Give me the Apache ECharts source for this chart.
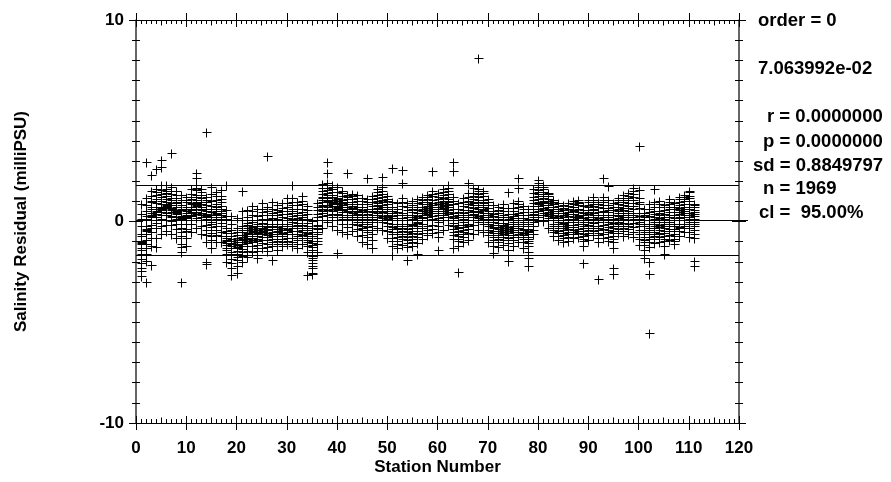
<!DOCTYPE html>
<html>
<head>
<meta charset="utf-8">
<script src="https://cdn.jsdelivr.net/npm/echarts@6/dist/echarts.min.js"></script>
<style>
html,body{margin:0;padding:0;background:#fff;}
#chart{width:891px;height:482px;}
</style>
</head>
<body>
<div id="chart"></div>
<script>
// ---- data ----
const stationNumbers = [];
for (let s = 1; s <= 111; s++) stationNumbers.push(s);

// residuals per station (milliPSU), index i -> station i+1
const residualsByStation = [
[-1.05,-2.72,-0.62,-1.41,0.88,-2.3,-1.12,-0.2,-1.85,-0.95,0.35,-2.45,-1.6,-0.71,-1.3,0.12,-2.05,-1.0],
[-0.4,0.51,-1.98,-0.22,2.97,-3.0,-0.61,1.18,-0.35,-1.3,0.05,0.8,-0.9,-1.62,0.28,-0.48,0.12,-1.1],
[0.31,1.52,-1.2,0.2,0.62,-0.52,2.3,-2.15,0.95,0.27,-0.15,1.25,0.44,-0.8,0.08,0.71,1.02,-0.3],
[0.45,1.61,-0.8,0.52,2.62,0.9,-1.25,0.05,1.3,0.38,-0.31,0.71,1.12,0.6,-0.05,0.22,1.45],
[0.6,1.82,0.68,-0.6,3.05,2.7,1.2,0.48,0.85,-0.21,1.55,0.72,0.1,1.02,0.3,1.38,0.55],
[0.8,1.79,0.72,-0.48,1.25,0.05,0.96,1.6,0.41,0.88,1.1,0.31,1.42,0.66,-0.15,0.75,1.5],
[0.55,3.38,1.7,-0.6,0.62,1.08,0.2,0.91,1.35,0.48,-0.18,0.8,1.52,0.28,0.67,1.18,0.02],
[0.45,1.51,-0.8,0.38,0.9,0.1,1.18,0.52,-0.35,0.7,1.3,0.22,0.55,0.95,-0.1,0.41],
[0.12,-3.0,1.31,-1.1,0.2,-1.25,0.55,-0.5,-1.5,0.82,0.05,-0.3,1.05,0.28,-0.72,0.15,0.6,-0.12],
[0.3,1.22,-1.2,0.15,0.62,-0.45,0.95,0.25,-0.8,0.4,1.08,-0.1,0.7,0.22,-0.35,0.5],
[0.55,1.62,-0.52,0.6,1.1,0.25,0.88,-0.1,1.35,0.48,0.7,0.05,1.2,0.4,0.92,0.3],
[0.9,1.82,-0.3,2.4,2.15,0.75,1.3,0.45,1.05,0.82,1.55,0.15,0.98,0.6,1.2,0.38,1.65,0.85],
[0.62,1.6,-0.62,0.55,1.15,0.2,0.85,-0.2,1.3,0.72,0.4,0.95,0.05,1.45,0.6,0.3],
[0.25,4.46,-2.0,-2.1,1.22,-1.0,0.3,0.6,-0.4,0.82,0.1,-0.65,0.95,0.2,-0.15,0.5,0.35,1.05],
[0.0,1.73,-1.3,0.45,-0.55,1.38,-0.9,0.2,0.75,-0.25,0.05,1.0,-0.7,0.3,-0.1,0.6,-0.4],
[0.35,1.48,-1.0,0.2,0.72,-0.4,1.05,0.4,-0.2,0.85,0.1,1.25,0.5,-0.65,0.3,0.62],
[0.1,1.56,-1.02,0.2,0.62,-0.5,0.95,-0.2,0.4,1.28,0.05,-0.7,0.75,0.3,-0.05,0.5,1.1],
[-0.8,1.8,-2.0,-0.55,-1.3,0.58,-0.9,-1.6,-0.3,-1.05,0.1,-0.7,-1.4,-0.45,-1.15,-0.95,0.25],
[-1.05,-2.65,-2.3,-0.7,-1.5,0.27,-1.2,-1.85,-0.4,-0.95,-1.6,-1.3,-0.1,-2.05,-0.85,-1.1,-0.55],
[-1.15,-2.55,-2.2,-0.8,-1.6,0.19,-1.3,-1.9,-0.5,-1.0,-1.45,-0.3,-1.75,-1.1,-0.65,-1.25,-0.9],
[-0.85,1.5,-2.0,-0.5,-1.35,0.52,-1.0,-1.7,-0.2,-0.9,-1.2,0.05,-0.65,-1.5,-0.75,-0.4,-1.1],
[-0.6,-1.78,-0.3,-1.2,0.58,-0.8,-0.05,-1.45,-0.55,-0.95,0.2,-0.7,-1.05,-0.4,-0.15,-0.85],
[-0.45,-1.5,0.78,-0.2,-1.0,-0.6,0.3,-0.8,-0.35,-1.2,0.0,-0.5,0.5,-0.7,-0.25,-0.9],
[-0.5,-1.8,-1.48,0.6,-0.3,-0.85,-0.1,-1.15,-0.6,0.25,-0.4,-0.95,-0.2,-0.7,0.05,-0.55,-1.3],
[-0.35,-1.3,0.9,-0.6,0.1,-0.9,-0.2,0.45,-0.5,-1.05,-0.05,0.3,-0.75,-0.3,0.6,-0.45],
[-0.4,3.25,-1.48,0.7,-0.75,-0.1,-1.1,0.3,-0.55,-0.2,-0.9,0.1,-0.35,0.5,-0.65,-0.25,-1.25],
[-0.25,-1.9,0.98,-1.2,0.3,-0.6,0.05,-0.85,0.6,-0.35,-0.1,-1.0,0.4,-0.5,0.15,-0.7,-0.2],
[-0.45,-1.4,0.8,-0.7,0.1,-1.1,-0.25,0.45,-0.85,-0.5,-0.1,0.3,-0.95,-0.35,0.55,-0.6],
[-0.3,-1.2,0.9,-0.55,0.2,-0.85,-0.1,0.5,-0.7,-0.4,0.05,-1.0,0.35,-0.2,0.65,-0.6],
[-0.2,-1.1,1.19,-0.5,0.35,-0.8,0.05,0.7,-0.35,-0.95,0.15,-0.6,0.9,-0.1,0.5,-0.4],
[0.0,1.8,-1.2,0.5,-0.45,1.18,-0.8,0.25,-0.2,0.8,-0.6,0.1,0.95,-0.3,0.4,-1.0,0.6],
[-0.2,-1.3,0.99,-0.6,0.3,-0.9,-0.05,0.6,-0.45,-1.1,0.15,-0.3,0.8,-0.7,0.4,-0.15],
[0.05,-1.1,1.29,-0.5,0.6,-0.8,0.2,1.0,-0.3,-0.15,0.45,-0.65,0.85,0.1,-0.4,0.3],
[-0.55,-2.65,-1.52,0.79,-0.9,-0.2,-1.2,0.35,-0.7,-0.4,-1.0,0.1,-0.6,-0.3,0.55,-0.8,-0.05],
[-1.25,-2.55,-2.61,0.02,-1.9,-0.7,-2.3,-1.5,-0.3,-1.05,-2.05,-1.7,-0.95,-1.4,-2.2,-0.5,-1.15,-1.8],
[-0.35,-1.49,0.91,-0.8,0.2,-1.1,-0.15,0.55,-0.6,-0.3,0.35,-0.95,-0.5,0.05,0.7,-0.2],
[0.75,1.88,-0.32,1.2,0.4,1.5,0.05,0.95,1.35,0.6,0.25,1.05,1.65,0.8,0.5,1.15],
[1.05,2.97,2.4,-0.02,1.91,1.4,0.55,1.2,0.8,1.65,0.3,1.0,1.8,0.7,1.3,0.95,1.55,1.15],
[0.95,1.81,-0.21,1.3,0.5,1.6,0.2,1.05,0.75,1.45,0.35,0.9,1.2,0.6,1.7,0.85],
[0.62,1.71,-1.55,-0.41,1.12,0.35,1.45,0.05,0.88,0.66,1.18,0.31,0.79,1.02,0.57,0.93,0.71],
[0.55,1.52,-0.52,0.9,0.2,1.25,-0.1,0.7,0.45,1.05,0.3,0.8,1.4,0.6,0.1,0.95],
[0.45,2.4,-0.61,1.32,0.1,0.85,0.3,1.1,-0.25,0.6,0.95,0.2,0.7,1.2,0.5,0.05],
[0.5,1.37,-0.49,0.85,0.2,1.1,-0.1,0.65,0.4,0.95,0.3,1.25,0.6,0.1,0.75],
[0.35,1.31,-0.71,0.7,0.0,1.0,-0.35,0.5,0.2,0.85,0.45,-0.15,1.15,0.3,0.6,0.1],
[0.1,1.19,-1.01,0.55,-0.4,0.85,-0.2,0.3,-0.65,0.7,0.0,1.0,0.2,-0.1,0.45,-0.3],
[0.0,2.15,-1.12,0.6,-0.5,1.11,-0.25,0.35,-0.75,0.85,0.1,-0.1,0.5,-0.4,0.2,0.95],
[0.2,-1.3,1.29,-0.91,0.6,-0.4,0.95,0.0,0.45,-0.2,1.1,0.3,-0.6,0.75,0.1,0.5],
[0.65,1.61,-0.3,1.0,0.3,1.3,0.05,0.8,0.5,1.15,0.2,0.9,1.45,0.6,0.4,0.75],
[0.6,2.2,1.69,-0.42,1.05,0.25,1.35,0.0,0.8,0.45,1.2,0.15,0.95,1.5,0.7,0.5],
[0.3,1.29,-0.81,0.7,-0.2,1.0,0.1,0.5,-0.45,0.85,0.2,0.6,-0.05,1.1,0.4,0.25],
[-0.1,2.65,-1.66,-1.21,0.99,-0.5,0.4,-0.8,0.15,-0.25,0.7,-0.6,0.05,-0.35,0.5,-0.95,0.25],
[-0.2,-1.31,0.9,-0.6,0.3,-0.95,0.05,-0.35,0.6,-0.75,-0.1,0.45,-0.5,0.15,-1.1,-0.3],
[-0.1,2.55,1.9,-1.19,1.17,-0.6,0.4,-0.85,0.15,-0.3,0.75,-0.45,0.05,0.95,-0.7,0.3,-0.2],
[-0.2,-1.9,-1.29,0.91,-0.6,0.3,-0.9,0.05,-0.35,0.55,-0.75,-0.1,0.2,-0.5,-1.05,0.7],
[-0.1,-1.2,1.01,-0.55,0.3,-0.85,0.1,-0.3,0.6,-0.7,-0.15,0.45,-0.45,0.2,-1.0,0.8],
[0.0,-1.6,-1.09,1.1,-0.45,0.4,-0.75,0.15,-0.2,0.7,-0.6,0.25,-0.05,0.9,-0.3,0.55],
[0.3,1.21,-0.89,0.7,-0.3,0.95,0.05,0.5,-0.55,0.85,0.2,-0.1,0.6,0.4,1.05,0.15],
[0.45,1.32,-0.69,0.85,-0.2,1.1,0.2,0.65,-0.4,0.95,0.3,0.05,0.75,0.55,1.2,0.35],
[0.5,2.5,1.51,-0.58,0.9,-0.15,1.25,0.25,0.7,-0.35,1.05,0.4,0.1,0.8,0.6,1.35],
[0.4,-1.4,1.39,-0.79,0.85,-0.2,1.1,0.15,0.6,-0.5,0.95,0.3,0.0,0.7,0.5,1.2],
[0.65,1.63,-0.41,1.0,0.3,1.3,0.05,0.8,0.5,1.15,0.2,0.9,1.45,0.6,0.4,0.75],
[0.85,1.82,-0.19,1.2,0.45,1.5,0.2,1.0,0.7,1.35,0.35,1.1,1.65,0.8,0.55,0.95],
[0.05,2.97,2.5,-1.3,1.21,-0.5,0.6,-0.85,0.25,-0.2,0.85,-0.65,0.4,-0.05,1.0,-0.35,0.15],
[-0.3,-2.5,-1.22,0.92,-0.7,0.3,-0.95,0.05,-0.45,0.6,-0.6,-0.15,0.2,-0.85,0.45,-0.25],
[0.0,-1.01,1.19,-0.5,0.4,-0.75,0.2,-0.25,0.75,-0.4,0.1,0.95,-0.15,0.55,-0.6,0.3],
[0.2,1.9,-0.9,1.41,-0.35,0.7,-0.1,0.45,1.0,-0.55,0.3,0.85,0.05,0.55,1.2,-0.2],
[0.5,1.68,-0.6,1.1,0.2,1.4,-0.15,0.8,0.35,0.95,0.05,0.65,1.25,0.45,0.9,0.3],
[0.6,8.11,1.62,-0.41,1.05,0.25,1.35,0.0,0.8,0.45,1.2,0.15,0.95,1.5,0.7,0.5],
[0.55,1.51,-0.51,0.9,0.2,1.25,-0.1,0.7,0.4,1.05,0.3,0.8,1.4,0.6,0.1,0.95],
[0.0,1.11,-1.0,0.5,-0.4,0.8,-0.2,0.3,-0.65,0.65,0.1,-0.1,0.95,0.2,-0.5,0.4],
[-0.3,-1.57,-1.21,0.81,-0.65,0.25,-0.9,0.0,-0.45,0.5,-0.15,-0.75,0.35,-0.55,0.1,-0.25],
[-0.35,-1.29,0.71,-0.75,0.1,-1.0,-0.15,0.4,-0.55,-0.85,0.2,-0.45,-0.05,0.55,-0.65,-0.25],
[-0.2,-1.19,0.89,-0.6,0.2,-0.9,-0.05,0.5,-0.4,-0.75,0.3,-0.3,0.05,0.65,-0.5,-0.15],
[-0.45,-1.65,-1.98,1.45,-1.39,0.69,-0.8,0.1,-1.05,-0.25,0.35,-0.65,-0.1,-0.9,0.2,-0.55,-0.35],
[-0.2,-1.2,0.9,-0.65,0.25,-0.9,0.0,0.5,-0.4,-0.75,0.15,-0.3,0.65,-0.5,-0.1,0.35],
[-0.1,2.15,1.65,-1.02,1.01,-0.5,0.4,-0.75,0.15,-0.3,0.7,-0.6,0.05,0.85,-0.2,0.3],
[-0.35,-1.3,0.79,-0.75,0.15,-1.0,-0.2,0.45,-0.55,-0.85,0.3,-0.4,0.0,0.6,-0.65,-0.1],
[-0.5,-1.8,-2.2,-1.51,0.61,-0.95,-0.1,-1.2,-0.35,0.3,-0.75,-0.2,-1.05,0.1,-0.6,-0.45,-0.85],
[0.3,1.59,-0.61,0.9,-0.2,1.2,0.1,0.6,-0.4,1.4,0.45,0.0,0.75,0.2,1.05,0.35],
[0.95,2.06,1.92,0.01,1.35,0.5,1.7,0.3,1.1,0.75,1.55,0.2,0.9,1.25,0.6,1.45,0.85],
[1.0,1.81,0.02,1.35,0.55,1.6,0.3,1.15,0.8,1.45,0.4,0.95,1.7,0.65,1.25,0.9],
[0.6,1.42,-0.31,1.0,0.25,1.25,0.05,0.8,0.45,1.1,0.15,0.7,1.35,0.55,0.35,0.9],
[0.2,1.09,-0.71,0.6,-0.2,0.85,-0.4,0.4,0.05,0.7,-0.1,0.3,0.95,0.15,-0.5,0.5],
[0.0,-0.9,0.9,-0.45,0.4,-0.7,0.15,-0.2,0.6,-0.55,0.05,0.75,-0.3,0.25,-0.1,0.5],
[-0.1,-1.01,0.81,-0.55,0.3,-0.8,0.05,-0.3,0.55,-0.65,-0.05,0.65,-0.4,0.2,-0.2,0.4],
[0.0,-0.99,0.9,-0.5,0.35,-0.75,0.1,-0.25,0.6,-0.6,0.0,0.75,-0.35,0.25,-0.15,0.45],
[0.1,-0.81,1.01,-0.4,0.5,-0.6,0.2,-0.15,0.7,-0.5,0.05,0.85,-0.25,0.35,0.0,0.55],
[0.2,0.98,-0.79,1.09,-0.35,0.6,-0.55,0.3,-0.1,0.8,-0.45,0.15,0.9,0.05,0.45,0.25],
[-0.2,-2.06,-1.21,0.79,-0.7,0.3,-0.95,0.0,-0.45,0.55,-0.6,-0.1,0.15,-0.85,0.4,-0.3],
[0.1,1.09,-0.91,0.55,-0.4,0.8,-0.15,0.35,-0.65,0.7,0.0,-0.3,0.95,0.2,-0.55,0.45],
[0.3,1.21,-0.69,0.75,-0.2,0.95,0.1,0.55,-0.45,0.85,0.2,-0.05,1.05,0.4,-0.3,0.6],
[0.0,-2.86,-1.01,0.99,-0.55,0.45,-0.8,0.15,-0.3,0.7,-0.65,0.05,0.85,-0.2,0.3,-0.4],
[0.2,2.15,1.21,-0.81,0.65,-0.35,0.95,0.05,0.45,-0.6,0.8,0.1,-0.15,1.05,0.3,0.5],
[0.1,1.75,-0.99,1.08,-0.5,0.55,-0.25,0.3,-0.75,0.8,0.0,-0.1,0.65,0.2,-0.4,0.45],
[-0.2,-2.3,-2.6,-1.31,0.91,-0.7,0.3,-1.0,-0.05,-0.45,0.55,-0.85,0.1,-0.3,0.7,-0.55],
[0.3,1.19,-0.59,0.7,-0.1,0.95,0.15,0.5,-0.35,0.85,0.25,0.0,1.05,0.4,-0.2,0.6],
[0.3,1.31,-0.71,0.8,-0.2,1.05,0.1,0.55,-0.45,0.95,0.2,-0.05,1.15,0.4,-0.3,0.65],
[0.4,1.41,-0.61,0.9,-0.1,1.15,0.2,0.65,-0.35,1.05,0.3,0.05,1.25,0.5,-0.2,0.75],
[0.3,1.52,1.68,-0.79,0.9,-0.25,1.2,0.1,0.6,-0.5,1.05,0.2,-0.05,0.75,0.4,1.35],
[0.0,3.75,1.58,-1.19,0.85,-0.6,1.15,-0.2,0.4,-0.85,0.65,0.1,-0.4,0.95,0.25,-0.1],
[-0.4,-1.8,-1.41,0.61,-0.9,0.2,-1.15,-0.2,-0.6,0.4,-0.75,-0.1,0.05,-1.0,-0.5,0.3],
[-0.3,-2.0,-2.6,-5.53,-1.29,0.89,-0.75,0.25,-1.0,-0.1,-0.5,0.6,-0.85,0.05,-0.4,0.45,-0.6],
[-0.1,1.6,-1.09,0.99,-0.6,0.35,-0.85,0.1,-0.3,0.7,-0.5,0.0,0.5,-0.7,0.2,-0.2],
[0.0,-1.0,1.01,-0.55,0.4,-0.75,0.15,-0.25,0.7,-0.4,0.05,0.85,-0.15,0.3,-0.6,0.5],
[-0.2,-1.6,-1.21,0.81,-0.7,0.2,-0.95,0.0,-0.45,0.55,-0.55,-0.1,0.35,-0.85,0.1,-0.3],
[0.0,1.1,-0.91,0.6,-0.45,0.85,-0.2,0.3,-0.65,0.7,0.05,-0.1,0.45,0.2,-0.35,0.95],
[-0.2,-1.1,0.9,-0.6,0.3,-0.85,0.05,-0.35,0.6,-0.7,-0.1,0.45,-0.45,0.15,-0.95,0.7],
[0.2,1.22,-0.71,0.65,-0.25,0.95,0.05,0.45,-0.45,0.8,0.15,-0.1,1.1,0.35,-0.3,0.55],
[0.4,1.31,-0.51,0.85,-0.1,1.1,0.2,0.6,-0.3,1.0,0.3,0.05,1.2,0.5,-0.2,0.7],
[0.3,1.52,1.46,-0.79,0.85,-0.3,1.15,0.1,0.6,-0.5,1.0,0.2,-0.1,0.7,0.4,1.25,0.0],
[0.1,-2.2,-1.95,0.89,-0.8,0.45,-0.4,0.7,-0.2,0.25,-0.6,0.8,0.0,0.35,-0.1,0.55]
];

// fit statistics shown on the right
const fitOrder = 0;
const meanResidual = 0.07063992;
const statR = '0.0000000';
const statP = '0.0000000';
const statSd = 0.8849797;
const statN = 1969;
const confLevel = 95.00;
const zValue = 1.96;

const xTicks = [0, 10, 20, 30, 40, 50, 60, 70, 80, 90, 100, 110, 120];
const yTicks = [-10, 0, 10];

// ---- build chart ----
const scatterData = [];
stationNumbers.forEach((s, i) => {
  residualsByStation[i].forEach(v => scatterData.push([s, v]));
});
const upper = meanResidual + zValue * statSd;
const lower = meanResidual - zValue * statSd;
// reference lines: [xStart, y, xEnd]
const refLines = [[0, upper, 120], [0, lower, 120], [0, meanResidual, 121.7]];

const FONT = '"Liberation Sans", Arial, Helvetica, sans-serif';
const axisFont = { fontFamily: FONT, fontWeight: 'bold', fontSize: 17, color: '#000' };
const blk = { color: '#000', width: 1 };

function xAx(pos, interval, inside, len, opts) {
  return Object.assign({
    type: 'value', position: pos, min: 0, max: 120, interval: interval,
    axisLine: { show: false, onZero: false, lineStyle: blk },
    axisTick: { show: true, inside: inside, length: len, lineStyle: blk },
    axisLabel: { show: false },
    splitLine: { show: false }
  }, opts || {});
}
function yAx(pos, inside, opts) {
  return Object.assign({
    type: 'value', position: pos, min: -10, max: 10, interval: 10,
    axisLine: { show: false, onZero: false, lineStyle: { color: '#333', width: 1.5 } },
    axisTick: { show: true, inside: inside, length: 7, lineStyle: blk },
    minorTick: { show: true, splitNumber: 10, length: 4, lineStyle: blk },
    axisLabel: { show: false },
    splitLine: { show: false }
  }, opts || {});
}

// crisp "+" marker positioned by the axis scales
function renderPlus(params, api) {
  const p = api.coord([api.value(0), api.value(1)]);
  const cx = Math.round(p[0]) + 0.5;
  const cy = Math.round(p[1]) + 0.5;
  const h = 4;
  return {
    type: 'path',
    shape: { pathData: 'M' + (cx - h) + ',' + cy + 'H' + (cx + h + 1) + 'M' + cx + ',' + (cy - h) + 'V' + (cy + h + 1) },
    style: { stroke: '#000', lineWidth: 1, fill: null },
    silent: true
  };
}
function renderRefLine(params, api) {
  const a = api.coord([api.value(0), api.value(1)]);
  const b = api.coord([api.value(2), api.value(1)]);
  const y = Math.round(a[1]) + 0.5;
  return {
    type: 'line',
    shape: { x1: Math.round(a[0]), y1: y, x2: Math.round(b[0]), y2: y },
    style: { stroke: '#000', lineWidth: 1 },
    silent: true
  };
}

const option = {
  animation: false,
  backgroundColor: '#fff',
  grid: { left: 136, top: 20, width: 603, height: 403, containLabel: false, outerBoundsMode: 'none' },
  xAxis: [
    xAx('bottom', 10, true, 7, {
      axisLine: { show: true, onZero: false, lineStyle: blk },
      minorTick: { show: true, splitNumber: 10, length: 4, lineStyle: blk },
      axisLabel: Object.assign({ show: true, margin: 16.5,
        formatter: v => (xTicks.indexOf(v) >= 0 ? String(v) : '') }, axisFont),
      name: 'Station Number', nameLocation: 'middle', nameGap: 35.5, nameMoveOverlap: false,
      nameTextStyle: axisFont
    }),
    xAx('bottom', 10, false, 7),
    xAx('bottom', 5, true, 5.5),
    xAx('top', 10, true, 7, {
      axisLine: { show: true, onZero: false, lineStyle: blk },
      minorTick: { show: true, splitNumber: 10, length: 4, lineStyle: blk }
    }),
    xAx('top', 10, false, 7),
    xAx('top', 5, true, 5.5)
  ],
  yAxis: [
    yAx('left', true, {
      axisLine: { show: true, onZero: false, lineStyle: { color: '#333', width: 1.5 } },
      axisLabel: Object.assign({ show: true, margin: 12,
        formatter: v => (yTicks.indexOf(v) >= 0 ? String(v) : '') }, axisFont),
      name: 'Salinity Residual (milliPSU)', nameLocation: 'middle', nameGap: 106, nameMoveOverlap: false,
      nameRotate: 90, nameTextStyle: axisFont
    }),
    yAx('left', false),
    yAx('right', true, { axisLine: { show: true, onZero: false, lineStyle: { color: '#333', width: 1.5 } } }),
    yAx('right', false)
  ],
  series: [
    {
      type: 'custom', xAxisIndex: 0, yAxisIndex: 0, silent: true, clip: false,
      renderItem: renderRefLine, data: refLines, z: 1
    },
    {
      type: 'custom', xAxisIndex: 0, yAxisIndex: 0, silent: true,
      renderItem: renderPlus, data: scatterData, z: 2
    }
  ],
  graphic: [
    { type: 'text', x: 758, y: 21, style: { text: 'order = ' + fitOrder, font: 'bold 18.5px ' + FONT, fill: '#000', verticalAlign: 'middle' } },
    { type: 'text', x: 758, y: 69, style: { text: meanResidual.toExponential(6).replace('e-', 'e-0'), font: 'bold 18.5px ' + FONT, fill: '#000', verticalAlign: 'middle' } },
    { type: 'text', x: 767, y: 117, style: { text: 'r = ' + statR, font: 'bold 18.5px ' + FONT, fill: '#000', verticalAlign: 'middle' } },
    { type: 'text', x: 763, y: 142, style: { text: 'p = ' + statP, font: 'bold 18.5px ' + FONT, fill: '#000', verticalAlign: 'middle' } },
    { type: 'text', x: 753, y: 166, style: { text: 'sd = ' + statSd.toFixed(7), font: 'bold 18.5px ' + FONT, fill: '#000', verticalAlign: 'middle' } },
    { type: 'text', x: 763, y: 189, style: { text: 'n = ' + statN, font: 'bold 18.5px ' + FONT, fill: '#000', verticalAlign: 'middle' } },
    { type: 'text', x: 759, y: 213, style: { text: 'cl =  ' + confLevel.toFixed(2) + '%', font: 'bold 18.5px ' + FONT, fill: '#000', verticalAlign: 'middle' } }
  ]
};

const chart = echarts.init(document.getElementById('chart'), null, { renderer: 'canvas' });
chart.setOption(option);
</script>
</body>
</html>
